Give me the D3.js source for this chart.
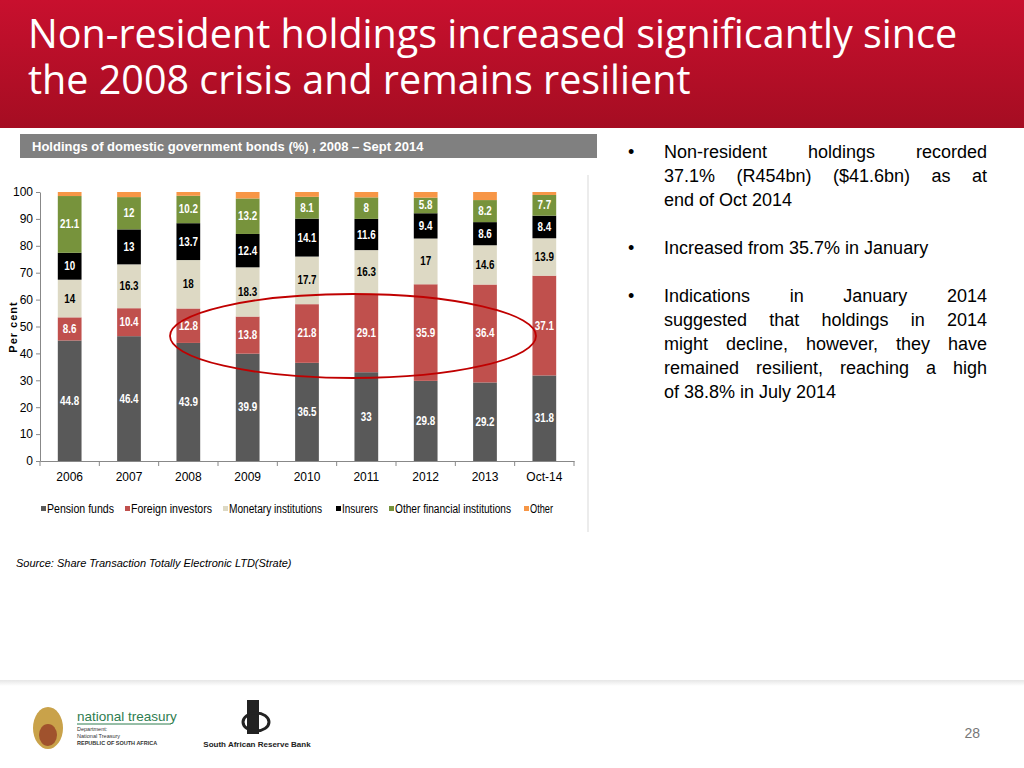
<!DOCTYPE html>
<html><head><meta charset="utf-8">
<script src="https://cdn.jsdelivr.net/npm/d3@7"></script>
<style>body{margin:0;background:#fff;}svg{display:block;}</style>
</head><body><svg id="c" width="1024" height="768"></svg>
<script>
const categories = ["2006","2007","2008","2009","2010","2011","2012","2013","Oct-14"];
const pensionFunds = [44.8,46.4,43.9,39.9,36.5,33,29.8,29.2,31.8];
const foreignInvestors = [8.6,10.4,12.8,13.8,21.8,29.1,35.9,36.4,37.1];
const monetaryInstitutions = [14,16.3,18,18.3,17.7,16.3,17,14.6,13.9];
const insurers = [10,13,13.7,12.4,14.1,11.6,9.4,8.6,8.4];
const otherFinancial = [21.1,12,10.2,13.2,8.1,8,5.8,8.2,7.7];
const other = [1.5,1.9,1.4,2.4,1.8,2,2.1,3,1.1];
const yTicks = [0,10,20,30,40,50,60,70,80,90,100];

const series = [
 {name:"Pension funds", vals:pensionFunds, color:"#595959", text:"#fff"},
 {name:"Foreign investors", vals:foreignInvestors, color:"#c0504d", text:"#fff"},
 {name:"Monetary institutions", vals:monetaryInstitutions, color:"#ddd9c4", text:"#000"},
 {name:"Insurers", vals:insurers, color:"#000000", text:"#fff"},
 {name:"Other financial institutions", vals:otherFinancial, color:"#77933c", text:"#fff"},
 {name:"Other", vals:other, color:"#f79646", text:null}
];

const svg = d3.select("#c");
const defs = svg.append("defs");
const g1 = defs.append("linearGradient").attr("id","hdr").attr("x1",0).attr("y1",0).attr("x2",0).attr("y2",1);
g1.append("stop").attr("offset","0%").attr("stop-color","#c8102e");
g1.append("stop").attr("offset","100%").attr("stop-color","#a50d22");
svg.append("rect").attr("x",0).attr("y",0).attr("width",1024).attr("height",128).attr("fill","url(#hdr)");
const title = svg.append("text").attr("fill","#fff").style("font-family","Open Sans").style("font-size","39.5px");
title.append("tspan").attr("x",28).attr("y",48).text("Non-resident holdings increased significantly since");
title.append("tspan").attr("x",28).attr("y",94).text("the 2008 crisis and remains resilient");

svg.append("rect").attr("x",20).attr("y",134).attr("width",577).attr("height",24).attr("fill","#808080");
svg.append("text").attr("x",32).attr("y",151).attr("fill","#fff").style("font-family","Liberation Sans").style("font-weight","bold").style("font-size","13px").text("Holdings of domestic government bonds (%) , 2008 – Sept 2014");
svg.append("line").attr("x1",588).attr("x2",588).attr("y1",175).attr("y2",532).attr("stroke","#d9d9d9");

const x = d3.scaleBand().domain(categories).range([40,574]).paddingInner(0.6).paddingOuter(0.3);
const y = d3.scaleLinear().domain([0,100]).range([461,192]);
const font = "Liberation Sans, sans-serif";

const yAxis = svg.append("g").attr("transform","translate(40,0)").call(d3.axisLeft(y).tickValues(yTicks).tickSize(4).tickSizeOuter(0));
const xAxis = svg.append("g").attr("transform","translate(0,461)").call(d3.axisBottom(x).tickSize(0));
[yAxis,xAxis].forEach(a=>{a.selectAll("path,line").attr("stroke","#888");a.selectAll("text").attr("fill","#000").style("font-family",font).style("font-size","12px");});
xAxis.selectAll("text").attr("dy","1.4em");
svg.append("g").selectAll("line").data(d3.range(10)).join("line")
 .attr("x1",(d)=>40+d*534/9).attr("x2",(d)=>40+d*534/9).attr("y1",461).attr("y2",466).attr("stroke","#888");
svg.append("text").attr("transform","translate(17,327) rotate(-90)").attr("text-anchor","middle")
 .style("font-family","Liberation Sans").style("font-weight","bold").style("font-size","11px").style("letter-spacing","1px").text("Per cent");

const barG = svg.append("g");
categories.forEach((c,i)=>{
  let base=0;
  series.forEach(s=>{
    const v=s.vals[i];
    barG.append("rect").attr("x",x(c)).attr("width",x.bandwidth()).attr("y",y(base+v)).attr("height",y(base)-y(base+v)).attr("fill",s.color);
    if(s.text){
      const cx=x(c)+x.bandwidth()/2, cy=(y(base)+y(base+v))/2+4;
      barG.append("text").attr("transform",`translate(${cx},${cy}) scale(0.82,1)`).attr("text-anchor","middle")
       .attr("fill",s.text).style("font-family",font).style("font-weight","bold").style("font-size","12px").text(v);
    }
    base+=v;
  });
});

svg.append("ellipse").attr("cx",353).attr("cy",336).attr("rx",183).attr("ry",42).attr("fill","none").attr("stroke","#c00000").attr("stroke-width",1.8);

// legend
const lx=[41,125,223,336,389,524];
const lw=[67,81,93,36,116,23];
series.forEach((s,i)=>{
  const g=svg.append("g").attr("transform",`translate(${lx[i]},509)`);
  g.append("rect").attr("x",0).attr("y",-3).attr("width",5).attr("height",5).attr("fill",s.color);
  g.append("text").attr("x",6).attr("y",4).attr("textLength",lw[i]).attr("lengthAdjust","spacingAndGlyphs")
   .style("font-family",font).style("font-size","12.5px").text(s.name);
});

svg.append("text").attr("x",16).attr("y",567).style("font-family","Liberation Sans").style("font-style","italic").style("font-size","11px").text("Source: Share Transaction  Totally Electronic LTD(Strate)");

// bullets
const bullets=[
 {y:158,lines:[["Non-resident","holdings","recorded"],["37.1%","(R454bn)","($41.6bn)","as","at"],["end of Oct 2014"]]},
 {y:254,lines:[["Increased from 35.7% in January"]]},
 {y:302,lines:[["Indications","in","January","2014"],["suggested","that","holdings","in","2014"],["might","decline,","however,","they","have"],["remained","resilient,","reaching","a","high"],["of 38.8% in July 2014"]]}
];
const bt=svg.append("g").style("font-family","Liberation Sans").style("font-size","18px").attr("fill","#000");
bullets.forEach(b=>{
  bt.append("text").attr("x",628).attr("y",b.y).text("•");
  b.lines.forEach((ln,li)=>{
    const yy=b.y+li*24;
    if(ln.length===1 || li===b.lines.length-1){bt.append("text").attr("x",664).attr("y",yy).text(ln.join(" "));return;}
    const ts=ln.map(w=>bt.append("text").attr("y",yy).text(w));
    const ws=ts.map(t=>t.node().getComputedTextLength());
    const gap=(987-664-d3.sum(ws))/(ln.length-1);
    let xx=664;
    ts.forEach((t,k)=>{t.attr("x",xx); xx+=ws[k]+gap;});
  });
});

// footer
const fg=defs.append("linearGradient").attr("id","ft").attr("x1",0).attr("y1",0).attr("x2",0).attr("y2",1);
fg.append("stop").attr("offset","0%").attr("stop-color","#e6e6e6");
fg.append("stop").attr("offset","100%").attr("stop-color","#fff");
svg.append("rect").attr("x",0).attr("y",680).attr("width",1024).attr("height",6).attr("fill","url(#ft)");
svg.append("text").attr("x",980).attr("y",738).attr("text-anchor","end").attr("fill","#777").style("font-family","Liberation Sans").style("font-size","14px").text("28");
svg.append("ellipse").attr("cx",48).attr("cy",728).attr("rx",15).attr("ry",21).attr("fill","#c9a24a");
svg.append("ellipse").attr("cx",48).attr("cy",735).attr("rx",9).attr("ry",11).attr("fill","#a0522d");
svg.append("text").attr("x",77).attr("y",721).attr("fill","#2e7d4f").style("font-family","Liberation Sans").style("font-size","13.5px").text("national treasury");
svg.append("line").attr("x1",77).attr("x2",171).attr("y1",724).attr("y2",724).attr("stroke","#2e7d4f");
const tt=svg.append("text").style("font-family","Liberation Sans").style("font-size","5.5px").attr("fill","#333");
tt.append("tspan").attr("x",77).attr("y",731).text("Department:");
tt.append("tspan").attr("x",77).attr("y",738).text("National Treasury");
tt.append("tspan").attr("x",77).attr("y",745).style("font-weight","bold").text("REPUBLIC OF SOUTH AFRICA");
svg.append("rect").attr("x",247).attr("y",700).attr("width",12).attr("height",34).attr("fill","#222");
svg.append("ellipse").attr("cx",256).attr("cy",722).attr("rx",13).attr("ry",9).attr("fill","none").attr("stroke","#222").attr("stroke-width",3);
svg.append("text").attr("x",257).attr("y",747).attr("text-anchor","middle").style("font-family","Liberation Sans").style("font-weight","bold").style("font-size","8px").attr("fill","#222").text("South African Reserve Bank");
</script></body></html>
